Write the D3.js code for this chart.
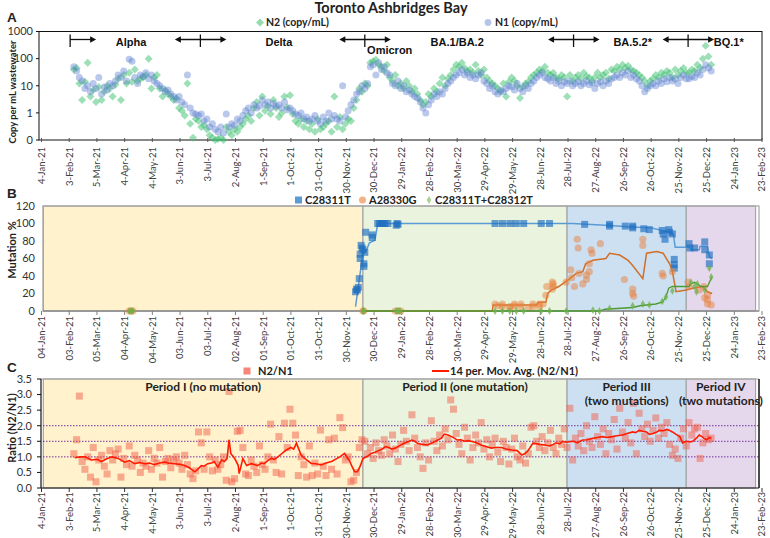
<!DOCTYPE html>
<html><head><meta charset="utf-8">
<script src="https://cdn.jsdelivr.net/npm/d3@7/dist/d3.min.js"></script>
<style>body{margin:0;background:#fff}svg{display:block}</style>
</head><body><svg id="c" width="770" height="538"></svg>
<script>
// ---------------- DATA ----------------
// sampling days, counted from 4-Jan-21
const sampleDay = [
35,38,41,44,47,50,53,56,59,62,
65,68,71,74,77,80,83,86,89,92,
95,98,101,104,107,110,113,116,119,122,
125,128,131,134,137,140,143,146,149,152,
155,158,161,164,167,170,173,176,179,182,
185,188,191,194,197,200,203,206,209,212,
215,218,221,224,227,230,233,236,239,242,
245,248,251,254,257,260,263,266,269,272,
275,278,281,284,287,290,293,296,299,302,
305,308,311,314,317,320,323,326,329,332,
335,338,341,344,347,350,353,356,359,362,
365,368,371,374,377,380,383,386,389,392,
395,398,401,404,407,410,413,416,419,422,
425,428,431,434,437,440,443,446,449,452,
455,458,461,464,467,470,473,476,479,482,
485,488,491,494,497,500,503,506,509,512,
515,518,521,524,527,530,533,536,539,542,
545,548,551,554,557,560,563,566,569,572,
575,578,581,584,587,590,593,596,599,602,
605,608,611,614,617,620,623,626,629,632,
635,638,641,644,647,650,653,656,659,662,
665,668,671,674,677,680,683,686,689,692,
695,698,701,704,707,710,713,716,719,722,
725];
// N2 copies per mL
const n2Values = [
40,45,12,3,14,70,4,7,2.5,9,
3,6,10,8,4,11,18,3,25,12,
30,14,40,15,18,20,25,100,8,20,
25,8,4,7,5,4,3,3.5,1.5,1.2,
0.8,12,0.4,0.12,0.6,0.5,0.3,0.35,0.25,0.15,
0.12,0.1,0.11,0.12,0.1,0.3,0.2,0.15,0.25,0.2,
0.3,0.4,0.6,0.8,0.5,1.5,2.5,0.8,4,1.2,
1.8,0.9,3,1.5,0.7,1.0,4,1.6,4.5,0.9,
0.5,0.4,0.6,0.3,0.5,0.25,0.4,0.2,0.6,0.25,
0.3,0.4,0.5,0.2,4,0.3,0.7,0.25,0.4,0.6,
0.5,1.5,3,8,6,12,10,70,80,90,
60,50,35,60,20,15,25,10,12,8,
15,10,6,8,5,3,2,2.5,5,4,
8,6,12,20,10,18,25,40,60,50,
70,45,35,40,30,60,35,25,40,20,
15,12,10,8,6,12,4,14,20,15,
10,3.5,9,12,14,20,25,30,40,35,
50,30,25,30,20,18,25,20,4,25,
15,20,25,18,30,22,20,15,20,30,
20,25,30,18,40,35,50,40,60,45,
55,40,35,30,25,20,15,10,15,18,
25,20,30,25,35,30,20,40,25,35,
45,30,30,40,35,60,45,100,300,120,
60];
// N1 copies per mL
const n1Values = [
50,35,20,15,8,10,6,12,8,20,
5,9,7,12,10,15,25,20,35,15,
95,80,20,12,25,22,30,18,25,15,
12,10,8,6,7,5,4,3,4,2.5,
2,25,1.5,1.0,0.9,0.8,0.9,0.5,0.6,0.3,
0.4,0.25,0.2,0.3,0.18,0.9,0.3,0.4,0.35,0.6,
0.5,0.8,1.2,1.5,1.0,2.0,1.5,1.8,3,2.0,
2.5,1.5,2.2,1.8,2.0,1.5,2.5,1.3,1.5,1.2,
0.9,0.8,1.0,0.6,0.7,0.5,0.6,0.8,0.5,0.4,
0.7,0.5,1.0,0.6,0.8,0.6,0.5,10,0.7,1.2,
2,3,5,6,10,8,12,50,60,25,
70,40,50,30,25,12,10,15,8,10,
6,7,5,4,3.5,2.5,1.5,1.0,2,3,
5,4,6,5,8,12,15,20,25,30,
40,25,30,20,25,18,25,30,15,12,
8,10,6,5,7,6,8,10,9,7,
12,8,6,10,8,12,15,20,25,30,
20,18,15,20,12,15,10,14,12,15,
10,12,14,10,12,15,11,13,8,12,
14,10,15,12,18,20,25,20,30,25,
35,20,25,18,15,10,6,8,10,12,
10,15,12,18,14,20,15,18,12,20,
25,18,18,22,20,30,25,40,60,45,
35];
// N2/N1 ratio
const ratioValues = [
1.1,1.55,2.95,0.85,0.6,1.0,0.35,1.3,0.2,0.9,
1.05,0.7,0.45,1.2,0.9,1.1,1.25,0.35,0.95,0.75,
1.35,0.7,1.05,0.9,0.5,0.8,0.7,1.2,0.6,0.95,
0.8,1.3,0.35,0.85,0.95,0.65,0.9,1.0,0.8,0.6,
1.05,0.75,0.45,0.3,0.55,1.8,1.45,0.6,1.8,1.0,
0.55,0.9,0.6,0.75,1.0,0.25,3.1,0.2,0.3,1.82,
1.85,1.3,0.45,0.4,0.9,0.7,0.5,1.35,0.75,0.6,
1.0,2.05,0.9,0.5,1.65,0.45,2.08,1.3,2.53,2.08,
1.7,0.4,1.0,0.75,0.35,1.35,0.4,0.8,0.45,1.86,
0.7,0.4,1.55,0.6,1.6,0.45,2.26,1.94,0.9,1.0,
0.2,0.25,0.5,1.3,1.55,1.5,1.1,1.3,0.95,1.45,
1.2,1.05,1.55,1.35,1.1,1.7,1.25,0.85,1.4,1.85,
1.5,1.2,2.35,1.6,1.3,1.0,0.63,1.45,0.9,2.16,
1.5,1.2,1.7,1.35,1.9,1.55,2.83,2.53,1.75,1.4,
1.1,1.95,1.6,0.9,1.3,1.7,1.45,2.1,1.25,1.55,
1.0,1.4,1.6,1.15,0.85,1.5,1.3,0.77,1.25,1.6,
1.0,0.9,1.35,0.8,1.1,1.95,2.0,1.5,1.3,1.65,
1.2,1.45,1.85,1.3,1.1,1.6,1.4,1.9,1.3,2.56,
0.9,1.6,1.35,1.75,1.2,2.0,1.5,1.3,2.29,1.65,
1.4,1.9,1.1,1.75,1.55,2.2,1.25,2.56,1.8,1.6,
2.1,1.45,2.72,1.1,2.4,1.9,1.65,2.05,1.5,1.85,
2.25,1.6,1.95,1.75,2.1,1.4,1.05,1.25,0.95,1.6,
1.9,1.35,2.1,1.7,1.9,1.95,0.95,1.45,1.75,1.55,
1.6];
// 14 per. moving average of N2/N1 [day, value]
const ratioMovAvg = [[36,0.97],[42,1.0],[47,1.0],[54,0.9],[60,0.92],[65,0.85],[70,0.93],[76,1.0],[83,0.95],[90,0.83],[95,0.88],[101,0.78],[106,0.82],[112,0.78],[117,0.8],[122,0.75],[128,0.8],[133,0.83],[138,0.8],[144,0.78],[150,0.76],[155,0.72],[160,0.65],[166,0.52],[169,0.6],[173,0.72],[176,0.7],[180,0.78],[184,0.8],[187,0.85],[191,0.67],[195,0.9],[198,0.85],[201,0.95],[203,1.55],[205,1.1],[208,1.0],[210,0.9],[213,0.72],[214,0.46],[218,0.95],[222,0.72],[227,0.78],[231,0.75],[234,0.72],[238,0.8],[241,0.78],[245,0.88],[249,0.95],[252,0.92],[256,1.0],[260,1.1],[265,1.22],[270,1.3],[273,1.25],[276,1.44],[281,1.06],[287,0.9],[292,0.79],[297,0.78],[303,0.74],[308,0.8],[314,0.85],[318,0.92],[323,1.0],[328,1.11],[333,0.9],[336,0.7],[339,0.52],[342,0.52],[345,0.7],[348,0.95],[352,1.0],[357,1.11],[361,1.15],[365,1.2],[369,1.25],[372,1.33],[376,1.3],[379,1.25],[383,1.28],[386,1.33],[390,1.4],[394,1.45],[398,1.5],[401,1.54],[404,1.5],[407,1.44],[412,1.4],[418,1.38],[423,1.45],[429,1.54],[433,1.6],[436,1.73],[440,1.7],[444,1.65],[447,1.6],[450,1.54],[454,1.55],[458,1.5],[462,1.52],[466,1.49],[471,1.45],[476,1.38],[481,1.33],[487,1.28],[492,1.3],[498,1.3],[503,1.25],[509,1.22],[515,1.2],[520,1.06],[523,1.1],[526,1.17],[529,1.3],[532,1.44],[536,1.42],[539,1.4],[545,1.38],[550,1.35],[554,1.4],[557,1.45],[561,1.42],[564,1.5],[568,1.47],[572,1.49],[576,1.5],[580,1.45],[583,1.5],[586,1.54],[591,1.55],[597,1.6],[602,1.62],[607,1.65],[612,1.62],[618,1.65],[623,1.68],[629,1.7],[634,1.75],[640,1.8],[643,1.78],[647,1.85],[651,1.82],[655,1.8],[658,1.72],[662,1.75],[666,1.8],[669,1.85],[673,1.84],[677,1.88],[680,1.85],[683,1.8],[687,1.72],[691,1.65],[694,1.45],[698,1.5],[702,1.48],[705,1.5],[709,1.6],[712,1.7],[715,1.65],[718,1.58],[720,1.55],[723,1.62],[725,1.6]];

// Mutation % points [day, value]
const c28311tPoints = [[340,22],[341,25],[342,24],[343,27],[344,37],[345,65],[345,60],[346,75],[347,72],[348,70],[349,51],[349,54],[350,67],[351,90],[358,87],[358,84],[364,100],[366,100],[368,100],[370,100],[372,100],[375,100],[384,98],[385,100],[386,99],[491,100],[499,100],[507,100],[514,100],[522,100],[541,100],[550,100],[588,99],[615,97],[615,99],[632,97],[640,95],[640,97],[652,94],[658,93],[672,92],[673,88],[675,82],[679,93],[680,90],[683,88],[685,59],[685,53],[685,49],[701,77],[702,72],[707,72],[718,79],[718,70],[723,64],[723,54]];
const a28330gPoints = [[95,0],[97,0],[99,0],[348,0],[349,0],[383,0],[386,0],[389,0],[491,8],[494,6],[499,5],[499,8],[507,3],[507,5],[512,6],[512,8],[519,8],[519,5],[527,4],[532,5],[532,8],[539,5],[539,8],[543,8],[546,18],[547,28],[553,33],[554,31],[554,28],[553,25],[568,33],[573,47],[574,38],[577,28],[580,82],[581,72],[582,43],[586,31],[590,41],[590,36],[593,54],[593,45],[595,70],[596,66],[605,77],[631,36],[640,25],[640,20],[641,17],[651,82],[651,75],[672,43],[673,40],[683,45],[700,33],[701,28],[712,24],[717,28],[718,15],[721,18],[721,13],[721,8],[725,7]];
const c28312tPoints = [[95,0],[97,0],[99,0],[348,0],[349,0],[384,0],[386,0],[388,0],[491,0],[499,0],[507,0],[514,0],[522,0],[541,0],[550,0],[568,0],[597,1],[604,0],[615,3],[640,6],[651,8],[658,7],[672,11],[676,16],[683,23],[703,33],[707,28],[709,22],[710,31],[718,24],[723,49],[725,39]];
// moving-average lines of panel B [day, value]
const c28311tLine = [[340,5],[343,28],[346,51],[348,64],[352,70],[355,78],[361,81],[364,100],[370,100],[575,100],[610,98],[640,96],[660,95],[672,92],[680,90],[684,88],[686,73],[702,73],[703,70],[712,70],[713,74],[721,74],[723,62],[726,60]];
const a28330gLine = [[348,0],[488,0],[489,7],[536,7],[538,10],[546,10],[548,20],[552,24],[560,28],[572,37],[579,43],[586,45],[589,54],[597,58],[611,60],[615,66],[626,64],[635,58],[640,52],[651,37],[655,66],[666,68],[673,66],[680,54],[683,45],[687,22],[698,24],[705,26],[716,28],[721,22],[726,20]];
const c28312tLine = [[348,0],[604,0],[610,2],[640,4],[648,6],[665,8],[672,10],[676,16],[679,26],[683,28],[701,28],[703,31],[707,33],[714,28],[721,28],[724,35],[726,39]];

const periods = [
  {label:["Period I (no mutation)"], start:"2021-01-06", end:"2021-12-18", fill:"#fff2cc"},
  {label:["Period II (one mutation)"], start:"2021-12-18", end:"2022-07-27", fill:"#e9f3dd"},
  {label:["Period III","(two mutations)"], start:"2022-07-27", end:"2022-12-03", fill:"#cde0f2"},
  {label:["Period IV","(two mutations)"], start:"2022-12-03", end:"2023-02-16", fill:"#e5d8ec"}
];
const variantBars = [{bar:31, left:false}, {bar:172, left:true}, {bar:350, left:true}, {bar:576, left:true}, {bar:700, left:true}];
const variantLabels = [{t:"Alpha", d:97, low:false},{t:"Delta", d:257, low:false},{t:"Omicron", d:377, low:true},{t:"BA.1/BA.2", d:450, low:false},{t:"BA.5.2*", d:640, low:false},{t:"BQ.1*", d:744, low:false}];

const tickLabelsA = ["4-Jan-21","3-Feb-21","5-Mar-21","4-Apr-21","4-May-21","3-Jun-21","3-Jul-21","2-Aug-21","1-Sep-21","1-Oct-21","31-Oct-21","30-Nov-21","30-Dec-21","29-Jan-22","28-Feb-22","30-Mar-22","29-Apr-22","29-May-22","28-Jun-22","28-Jul-22","27-Aug-22","26-Sep-22","26-Oct-22","25-Nov-22","25-Dec-22","24-Jan-23","23-Feb-23"];
const tickLabelsB = ["04-Jan-21","03-Feb-21","05-Mar-21","04-Apr-21","04-May-21","03-Jun-21","03-Jul-21","02-Aug-21","01-Sep-21","01-Oct-21","31-Oct-21","30-Nov-21","30-Dec-21","29-Jan-22","28-Feb-22","30-Mar-22","29-Apr-22","29-May-22","28-Jun-22","28-Jul-22","27-Aug-22","26-Sep-22","26-Oct-22","25-Nov-22","25-Dec-22","24-Jan-23","23-Feb-23"];
const yTicksA = [0.1,1,10,100,1000];
const yTickLabelsA = ["0","1","10","100","1000"];
const yTicksB = [0,20,40,60,80,100,120];
const yTicksC = [0,0.5,1.0,1.5,2.0,2.5,3.0,3.5];
const refLinesC = [1.0,1.5,2.0];

// ---------------- DRAWING ----------------
const F = "Lato, 'Open Sans', sans-serif";
const FA = "'Liberation Sans', Arial, sans-serif";
const svg = d3.select("#c");
const t0 = Date.UTC(2021,0,4);
const dayDate = d => new Date(t0 + d*864e5);
const parseT = d3.utcParse("%d-%b-%y");
const parseISO = d3.utcParse("%Y-%m-%d");
const x = d3.scaleUtc().domain([new Date(t0), new Date(Date.UTC(2023,1,23))]).range([41.5, 762]);
const xd = d => x(dayDate(d));

// title
svg.append("text").attr("x",391).attr("y",13).attr("text-anchor","middle")
  .attr("font-family",F).attr("font-weight","bold").attr("font-size",14.5).attr("fill","#222").text("Toronto Ashbridges Bay");

function panelLetter(t,y){ svg.append("text").attr("x",7).attr("y",y).attr("font-family",FA).attr("font-weight","bold").attr("font-size",13.5).attr("fill","#222").text(t); }
function yTitle(t,cy,fs){ svg.append("text").attr("transform",`translate(16,${cy}) rotate(-90)`).attr("text-anchor","middle")
  .attr("font-family",F).attr("font-weight","bold").attr("font-size",fs).attr("fill","#222").text(t); }
function xAxis(labels, yAx, yLab, tickCol){
  const g = svg.append("g");
  labels.forEach(l=>{
    const xx = x(parseT(l));
    g.append("line").attr("x1",xx).attr("x2",xx).attr("y1",yAx).attr("y2",yAx+4).attr("stroke",tickCol).attr("stroke-width",1);
    g.append("text").attr("transform",`translate(${xx},${yLab}) rotate(-90)`).attr("text-anchor","end").attr("dy","0.35em")
      .attr("font-family",F).attr("font-size",9.5).attr("fill","#404040").text(l);
  });
}
function periodRects(y0,y1){
  periods.forEach(p=>{
    svg.append("rect").attr("x",x(parseISO(p.start))).attr("y",y0).attr("width",x(parseISO(p.end))-x(parseISO(p.start)))
      .attr("height",y1-y0).attr("fill",p.fill).attr("stroke","#a6a6a6").attr("stroke-width",1.2);
  });
}

// ===== Panel A =====
panelLetter("A",22);
yTitle("Copy per mL wastewater",92,9.4);
const yA = d3.scaleLog().domain([0.1,1000]).range([140,31.5]);
svg.append("rect").attr("x",39).attr("y",31.5).attr("width",723).attr("height",108.5).attr("fill","none").attr("stroke","#111").attr("stroke-width",1);
yTicksA.forEach((v,i)=>{
  svg.append("line").attr("x1",36).attr("x2",39).attr("y1",yA(v)).attr("y2",yA(v)).attr("stroke","#111");
  svg.append("text").attr("x",33).attr("y",yA(v)).attr("dy","0.35em").attr("text-anchor","end").attr("font-family",F).attr("font-size",11).attr("fill","#333").text(yTickLabelsA[i]);
});
xAxis(tickLabelsA,138,147,"#555");
const gA = svg.append("g");
const diamond = d3.symbol().type(d3.symbolSquare).size(32);
gA.selectAll("path.n2").data(sampleDay.map((d,i)=>[d,n2Values[i]])).join("path")
  .attr("d",diamond).attr("transform",d=>`translate(${xd(d[0])},${yA(d[1])}) rotate(45)`)
  .attr("fill","#3bbf6e").attr("fill-opacity",0.5);
gA.selectAll("circle.n1").data(sampleDay.map((d,i)=>[d,n1Values[i]])).join("circle")
  .attr("cx",d=>xd(d[0])).attr("cy",d=>yA(d[1])).attr("r",3.5)
  .attr("fill","#5b7fd0").attr("fill-opacity",0.42);
// legend A
svg.append("path").attr("d",diamond).attr("transform","translate(260,22.5) rotate(45)").attr("fill","#3bbf6e").attr("fill-opacity",0.55);
svg.append("text").attr("x",266).attr("y",22.5).attr("dy","0.35em").attr("font-family",F).attr("font-weight","bold").attr("font-size",10.5).attr("fill","#222").text("N2 (copy/mL)");
svg.append("circle").attr("cx",488).attr("cy",22.5).attr("r",3.4).attr("fill","#5b7fd0").attr("fill-opacity",0.45);
svg.append("text").attr("x",495).attr("y",22.5).attr("dy","0.35em").attr("font-family",F).attr("font-weight","bold").attr("font-size",10.5).attr("fill","#222").text("N1 (copy/mL)");
// variant arrows
const ay = 39.5;
function head(xe,dir){ svg.append("path").attr("d",`M${xe},${ay} L${xe-6*dir},${ay-3.2} L${xe-6*dir},${ay+3.2} Z`).attr("fill","#111"); }
variantBars.forEach(v=>{
  const xb = xd(v.bar);
  svg.append("line").attr("x1",xb).attr("x2",xb).attr("y1",34.5).attr("y2",47).attr("stroke","#111").attr("stroke-width",1.3);
  const xr = xb+26, xl = xb-25.5;
  svg.append("line").attr("x1",v.left?xl+3:xb).attr("x2",xr-3).attr("y1",ay).attr("y2",ay).attr("stroke","#111").attr("stroke-width",1.3);
  head(xr,1); if(v.left) head(xl,-1);
});
variantLabels.forEach(v=>{
  svg.append("text").attr("x",xd(v.d)).attr("y",v.low?54:45.5).attr("text-anchor","middle").attr("font-family",FA).attr("font-weight","bold").attr("font-size",11).attr("fill","#111").text(v.t);
});

// ===== Panel B =====
panelLetter("B",198);
yTitle("Mutation %",250,11);
const yB = d3.scaleLinear().domain([0,120]).range([311,206]);
periodRects(206,311);
svg.append("rect").attr("x",43).attr("y",206).attr("width",716).attr("height",105).attr("fill","none").attr("stroke","#a6a6a6").attr("stroke-width",1.2);
svg.append("line").attr("x1",43).attr("x2",759).attr("y1",311).attr("y2",311).attr("stroke","#808080").attr("stroke-width",1.2);
yTicksB.forEach(v=>{
  svg.append("text").attr("x",35).attr("y",yB(v)).attr("dy","0.35em").attr("text-anchor","end").attr("font-family",F).attr("font-size",11).attr("fill","#333").text(v);
});
xAxis(tickLabelsB,311,316,"#808080");
const lineB = d3.line().x(d=>xd(d[0])).y(d=>yB(d[1]));
const gB = svg.append("g");
gB.append("path").attr("d",lineB(c28311tLine)).attr("fill","none").attr("stroke","#5b9bd5").attr("stroke-width",1.5);
gB.selectAll("rect.b").data(c28311tPoints).join("rect").attr("x",d=>xd(d[0])-3.5).attr("y",d=>yB(d[1])-3.5).attr("width",7).attr("height",7)
  .attr("fill","#1f6fc0").attr("fill-opacity",0.65);
gB.append("path").attr("d",lineB(a28330gLine)).attr("fill","none").attr("stroke","#cf6f28").attr("stroke-width",1.5);
gB.selectAll("circle.o").data(a28330gPoints).join("circle").attr("cx",d=>xd(d[0])).attr("cy",d=>yB(d[1])).attr("r",3.6)
  .attr("fill","#e8823d").attr("fill-opacity",0.5);
gB.append("path").attr("d",lineB(c28312tLine)).attr("fill","none").attr("stroke","#4e9a34").attr("stroke-width",1.3);
const plus = d3.symbol().type(d3.symbolDiamond).size(18);
gB.selectAll("path.g").data(c28312tPoints).join("path").attr("d",plus).attr("transform",d=>`translate(${xd(d[0])},${yB(d[1])})`)
  .attr("fill","#6cb04a").attr("fill-opacity",0.75);
// legend B
svg.append("rect").attr("x",295).attr("y",196.5).attr("width",7).attr("height",7).attr("fill","#5b9bd5");
svg.append("text").attr("x",305).attr("y",200).attr("dy","0.35em").attr("font-family",F).attr("font-weight","bold").attr("font-size",11).attr("fill","#222").text("C28311T");
svg.append("circle").attr("cx",362.5).attr("cy",200).attr("r",3.5).attr("fill","#f4b183");
svg.append("text").attr("x",369).attr("y",200).attr("dy","0.35em").attr("font-family",F).attr("font-weight","bold").attr("font-size",11).attr("fill","#222").text("A28330G");
svg.append("path").attr("d",plus).attr("transform","translate(429,200)").attr("fill","#a9d18e");
svg.append("text").attr("x",435).attr("y",200).attr("dy","0.35em").attr("font-family",F).attr("font-weight","bold").attr("font-size",11).attr("fill","#222").text("C28311T+C28312T");

// ===== Panel C =====
panelLetter("C",372);
yTitle("Ratio (N2/N1)",428,11);
const yC = d3.scaleLinear().domain([0,3.5]).range([488,379]);
periodRects(379,488);
svg.append("line").attr("x1",41).attr("x2",759).attr("y1",379).attr("y2",379).attr("stroke","#a6a6a6").attr("stroke-width",1.2);
refLinesC.forEach(v=>{
  svg.append("line").attr("x1",43).attr("x2",759).attr("y1",yC(v)).attr("y2",yC(v)).attr("stroke","#7030a0").attr("stroke-width",1).attr("stroke-dasharray","1.5,1.5");
});
yTicksC.forEach(v=>{
  svg.append("line").attr("x1",37).attr("x2",41).attr("y1",yC(v)).attr("y2",yC(v)).attr("stroke","#111");
  svg.append("text").attr("x",32).attr("y",yC(v)).attr("dy","0.35em").attr("text-anchor","end").attr("font-family",F).attr("font-size",11).attr("fill","#333").text(d3.format(".1f")(v));
});
xAxis(tickLabelsA,488,492,"#333");
const gC = svg.append("g");
gC.selectAll("rect.r").data(sampleDay.map((d,i)=>[d,ratioValues[i]])).join("rect")
  .attr("x",d=>xd(d[0])-3.5).attr("y",d=>yC(d[1])-3.5).attr("width",7).attr("height",7)
  .attr("fill","#f2604c").attr("fill-opacity",0.5);
gC.append("path").attr("d",d3.line().x(d=>xd(d[0])).y(d=>yC(d[1]))(ratioMovAvg)).attr("fill","none").attr("stroke","#ff1a00").attr("stroke-width",1.6);
svg.append("line").attr("x1",41).attr("x2",41).attr("y1",379).attr("y2",488).attr("stroke","#111").attr("stroke-width",1.2);
svg.append("line").attr("x1",41).attr("x2",759).attr("y1",488).attr("y2",488).attr("stroke","#111").attr("stroke-width",1.2);
svg.append("line").attr("x1",759).attr("x2",759).attr("y1",379).attr("y2",488).attr("stroke","#111").attr("stroke-width",1.5);
periods.forEach(p=>{
  const cx = (x(parseISO(p.start))+x(parseISO(p.end)))/2;
  p.label.forEach((t,i)=>{
    svg.append("text").attr("x",cx).attr("y",391+i*13.5).attr("text-anchor","middle").attr("font-family",F).attr("font-weight","bold").attr("font-size",12).attr("fill","#222").text(t);
  });
});
// legend C
svg.append("rect").attr("x",243.5).attr("y",367.5).attr("width",7).attr("height",7).attr("fill","#f4877a");
svg.append("text").attr("x",258).attr("y",371).attr("dy","0.35em").attr("font-family",F).attr("font-weight","bold").attr("font-size",11).attr("fill","#222").text("N2/N1");
svg.append("line").attr("x1",432).attr("x2",449).attr("y1",371).attr("y2",371).attr("stroke","#ff1a00").attr("stroke-width",2);
svg.append("text").attr("x",450).attr("y",371).attr("dy","0.35em").attr("font-family",F).attr("font-weight","bold").attr("font-size",11).attr("fill","#222").text("14 per. Mov. Avg. (N2/N1)");
</script></body></html>
